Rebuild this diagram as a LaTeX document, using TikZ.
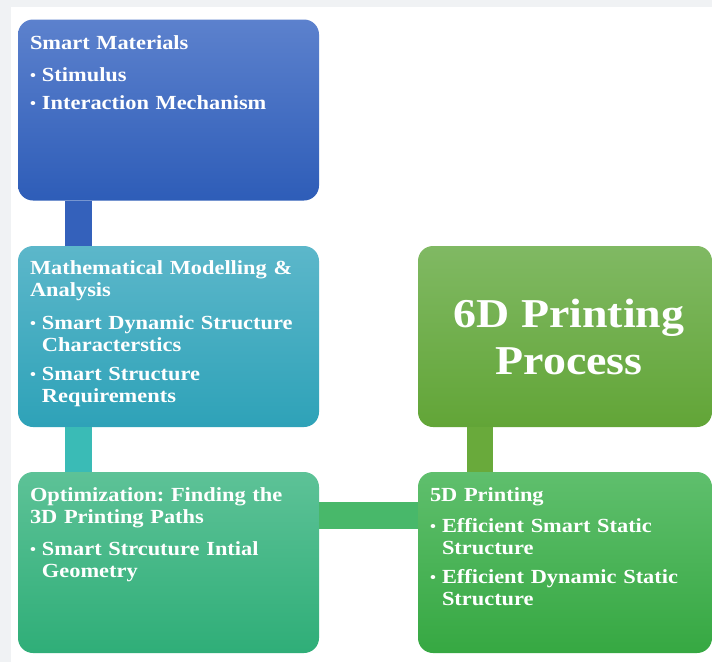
\documentclass[tikz,border=0pt]{standalone}
\usepackage{fontspec}
\newfontfamily\boxfont{Liberation Serif}[FakeStretch=1.12]
\usetikzlibrary{calc}

\definecolor{pagegrey}{HTML}{F0F2F4}
\definecolor{blueTop}{HTML}{5C81CD}
\definecolor{blueBot}{HTML}{2E5DB8}
\definecolor{tealTop}{HTML}{5CB7CA}
\definecolor{tealBot}{HTML}{2EA2B8}
\definecolor{mintTop}{HTML}{5DC297}
\definecolor{mintBot}{HTML}{2FAE78}
\definecolor{greenTop}{HTML}{5FBF6D}
\definecolor{greenBot}{HTML}{36A842}
\definecolor{oliveTop}{HTML}{80B963}
\definecolor{oliveBot}{HTML}{62A537}
\definecolor{linkBlue}{HTML}{3461BB}
\definecolor{linkTeal}{HTML}{3ABBB6}
\definecolor{linkGreen}{HTML}{48B86A}
\definecolor{linkOlive}{HTML}{69AA3B}

\frenchspacing
\newcommand\bul{\makebox[12pt][l]{\raisebox{1pt}{\fontsize{15}{15}\selectfont•}}}
\newcommand\cont{\hspace*{12pt}}

\tikzset{
  panel/.style={rounded corners=15pt, minimum width=301pt, minimum height=181pt,
    inner sep=0pt, draw=none},
  panel text/.style={anchor=base west, inner sep=0pt, text width=285pt, align=left,
    text=white, font=\boxfont\bfseries\fontsize{20}{22}\selectfont},
  big text/.style={inner sep=0pt, align=center, text=white,
    font=\boxfont\bfseries\fontsize{41}{47}\selectfont},
  link/.style={line width=27pt, line cap=butt}
}

\begin{document}
\begin{tikzpicture}[x=1pt, y=-1pt]
  % page background
  \fill[pagegrey] (0,0) rectangle (712,662);
  \fill[white] (11,7) rectangle (712,662);
  \useasboundingbox (0,0) rectangle (712,662);

  % boxes
  \node[panel, top color=blueTop, bottom color=blueBot] (sm) at (168.5,110) {};
  \node[panel, top color=tealTop, bottom color=tealBot] (mm) at (168.5,336.5) {};
  \node[panel, top color=mintTop, bottom color=mintBot] (op) at (168.5,562.5) {};
  \node[panel, minimum width=294pt, top color=greenTop, bottom color=greenBot] (fd) at (565,562.5) {};
  \node[panel, minimum width=294pt, top color=oliveTop, bottom color=oliveBot] (sd) at (565,336.5) {};

  % connectors between the boxes
  \draw[link, linkBlue] ([xshift=61pt]sm.south west) -- ([xshift=61pt]mm.north west);
  \draw[link, linkTeal] ([xshift=61pt]mm.south west) -- ([xshift=61pt]op.north west);
  \draw[link, linkGreen] ([yshift=47pt]op.east) -- ([yshift=47pt]fd.west);
  \draw[link, line width=26pt, linkOlive] ([xshift=62pt]sd.south west) -- ([xshift=62pt]fd.north west);

  % texts
  \node[panel text] (smt) at ([shift={(12pt,-30pt)}]sm.north west)
    {Smart Materials\\[10pt]
     \bul Stimulus\\[6pt]
     \bul Interaction Mechanism};
  \node[panel text] (mmt) at ([shift={(12pt,-29pt)}]mm.north west)
    {Mathematical Modelling \&\\
     Analysis\\[11pt]
     \bul Smart Dynamic Structure\\
     \cont Characterstics\\[7pt]
     \bul Smart Structure\\
     \cont Requirements};
  \node[panel text] (opt) at ([shift={(12pt,-30pt)}]op.north west)
    {Optimization: Finding the\\
     3D Printing Paths\\[10pt]
     \bul Smart Strcuture Intial\\
     \cont Geometry};
  \node[panel text] (fdt) at ([shift={(12pt,-30pt)}]fd.north west)
    {5D Printing\\[9pt]
     \bul Efficient Smart Static\\
     \cont Structure\\[7pt]
     \bul Efficient Dynamic Static\\
     \cont Structure};
  \node[big text] (sdt) at ([xshift=4pt]sd.center) {6D Printing\\Process};
\end{tikzpicture}
\end{document}
